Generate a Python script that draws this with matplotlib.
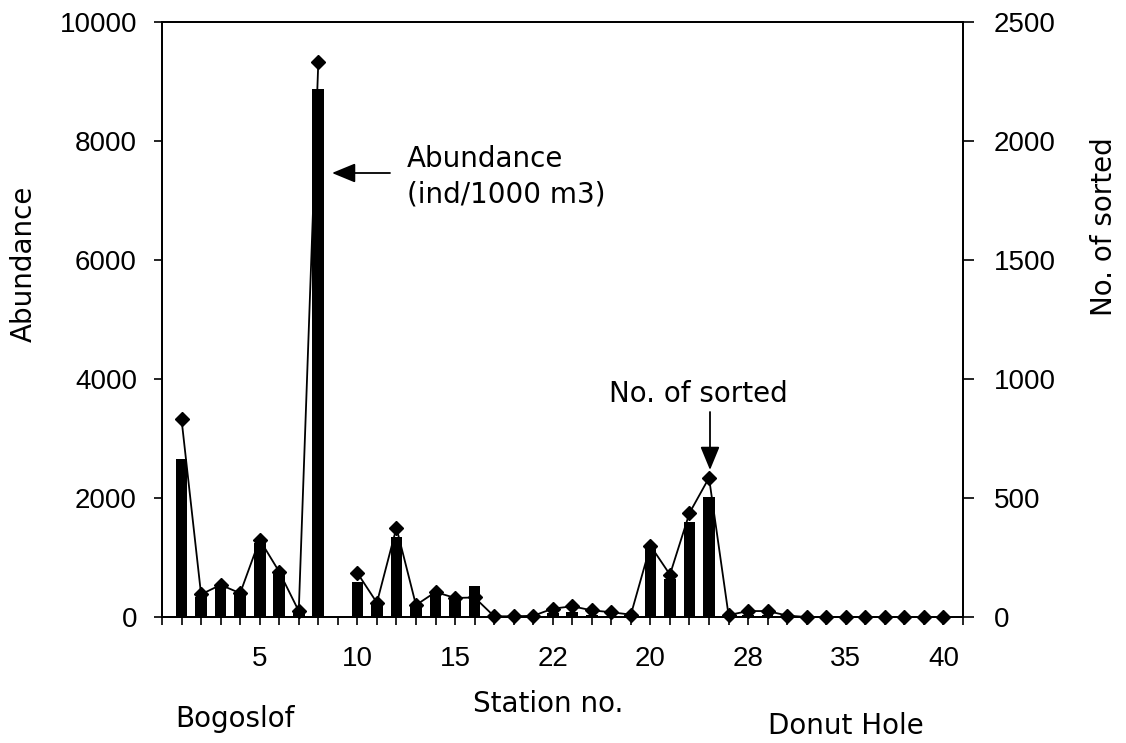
import numpy as np
import matplotlib
matplotlib.use("Agg")
import matplotlib.pyplot as plt

plt.rcParams['font.family'] = ['Liberation Sans', 'DejaVu Sans']

stations = list(range(1, 41))
abundance = [2650, 330, 500, 380, 1250, 750, 60, 8870, np.nan, 580,
             200, 1350, 180, 420, 300, 520, 0, 0, 0, 60,
             80, 40, 20, 0, 1180, 640, 1590, 2010, 0, 30,
             30, 0, 0, 0, 0, 0, 0, 0, 0, 0]
sorted_n = [830, 95, 135, 100, 325, 190, 25, 2330, np.nan, 185,
            60, 375, 50, 105, 80, 82, 3, 3, 5, 35,
            45, 28, 20, 10, 300, 178, 437, 585, 8, 25,
            25, 6, 0, 0, 0, 0, 0, 0, 0, 0]
tick_pos = [5, 10, 15, 20, 25, 30, 35, 40]
tick_labels = ["5", "10", "15", "22", "20", "28", "35", "40"]

W, H = 1126, 743
fig = plt.figure(figsize=(W/100, H/100), dpi=100)
ax = fig.add_axes([162/W, 1-617/H, (963-162)/W, (617-22)/H])
ax2 = ax.twinx()

def px(x, y):
    return (x / W, 1 - y / H)

ax.bar(stations, abundance, width=0.6, color='black', zorder=2)
ax2.plot(stations, sorted_n, color='black', lw=1.3, marker='D', ms=7,
         markerfacecolor='black', clip_on=False, zorder=3)

ax.set_xlim(0, 41)
ax.set_ylim(0, 10000)
ax2.set_ylim(0, 2500)
ax.set_yticks(range(0, 10001, 2000))
ax2.set_yticks(range(0, 2501, 500))
ax.set_xticks(range(0, 42), minor=True)
ax.set_xticks(tick_pos)
ax.set_xticklabels(tick_labels)

fs = 20
for a in (ax, ax2):
    for s in a.spines.values():
        s.set_linewidth(1.3)
ax.tick_params(axis='y', direction='out', length=6, width=1.2, labelsize=fs, pad=12)
ax2.tick_params(axis='y', direction='out', length=8, width=1.2, labelsize=fs, pad=14)
ax.tick_params(axis='x', which='both', direction='out', length=6, width=1.2, labelsize=fs, pad=15)

dv = 'DejaVu Sans'
fig.text(*px(24, 264), "Abundance", fontsize=fs, family=dv, rotation=90,
         ha='center', va='center')
fig.text(*px(1104, 227), "No. of sorted", fontsize=fs, family=dv, rotation=90,
         ha='center', va='center')

fig.text(*px(548, 712), "Station no.", fontsize=fs, family=dv, ha='center', va='baseline')
fig.text(*px(235, 727), "Bogoslof", fontsize=fs, family=dv, ha='center', va='baseline')
fig.text(*px(846, 734), "Donut Hole", fontsize=fs, family=dv, ha='center', va='baseline')

fig.text(*px(407, 167), "Abundance", fontsize=fs, family=dv, ha='left', va='baseline')
fig.text(*px(407, 203), "(ind/1000 m3)", fontsize=fs, family=dv, ha='left', va='baseline')
fig.text(*px(698, 402), "No. of sorted", fontsize=fs, family=dv, ha='center', va='baseline')

arrow_kw = dict(arrowstyle='-|>,head_length=0.8,head_width=0.33', color='black', lw=1.3,
                mutation_scale=18, shrinkA=0, shrinkB=0)
fig.add_artist(matplotlib.patches.FancyArrowPatch(px(390, 173), px(332, 173),
                                                  transform=fig.transFigure, **arrow_kw))
fig.add_artist(matplotlib.patches.FancyArrowPatch(px(710, 412), px(710, 470),
                                                  transform=fig.transFigure, **arrow_kw))

fig.savefig("out.png", dpi=100)
